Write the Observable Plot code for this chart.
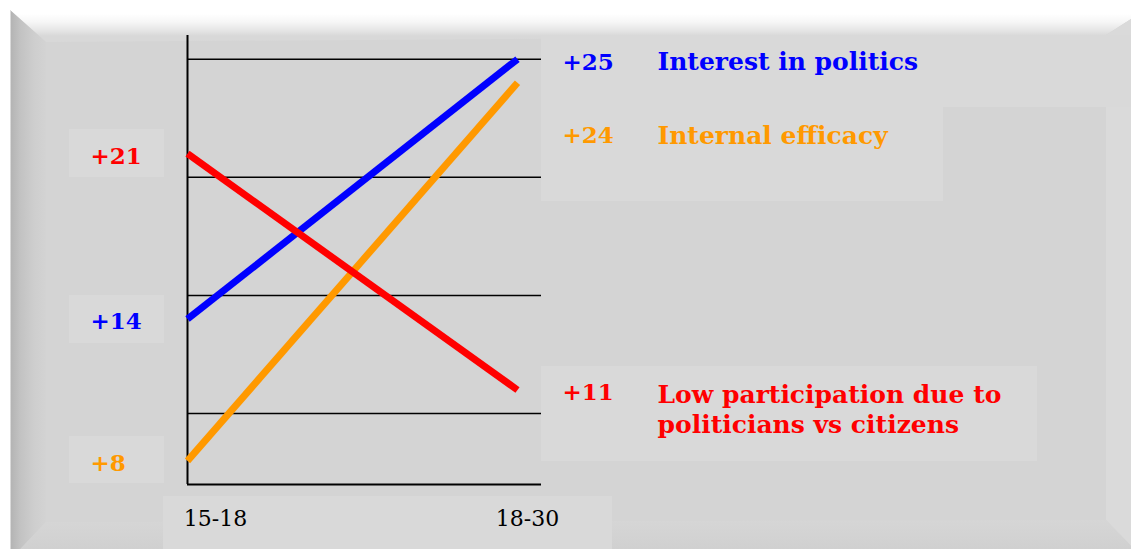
<!DOCTYPE html>
<html>
<head>
<meta charset="utf-8">
<script src="https://cdn.jsdelivr.net/npm/d3@7"></script>
<script src="https://cdn.jsdelivr.net/npm/@observablehq/plot@0.6"></script>
<style>
  html, body { margin: 0; padding: 0; background: #ffffff; }
  #wrap { position: relative; width: 1131px; height: 549px; overflow: hidden; background: #ffffff; }
  .bev { position: absolute; left: 0; top: 0; width: 1131px; height: 549px; }
  .box { position: absolute; background: #d9d9d9; }
  #chart { position: absolute; left: 0; top: 0; }
</style>
</head>
<body>
<div id="wrap">
  <div class="bev" style="background:#d4d4d4; clip-path: polygon(10px 10px, 1145px 10px, 1145px 560px, 10px 560px);"></div>
  <div class="bev" style="background: linear-gradient(to bottom, #ffffff 0px, #ffffff 14px, #f6f6f6 22px, #e4e4e4 31px, #d8d8d8 36px); clip-path: polygon(10px 10px, 1145px 10px, 1106px 35px, 46px 42px);"></div>
  <div class="bev" style="background: linear-gradient(to right, #ffffff 0px, #ffffff 10px, #b4b4b4 11px, #c2c2c2 20px, #cecece 34px, #d3d3d3 46px); clip-path: polygon(10px 10px, 46px 42px, 46px 522px, 10px 560px);"></div>
  <div class="bev" style="background:#dadada; clip-path: polygon(1145px 10px, 1106px 35px, 1106px 520px, 1145px 560px);"></div>
  <div class="bev" style="background: linear-gradient(to bottom, #d6d6d6 520px, #d0d0d0 549px); clip-path: polygon(10px 560px, 46px 522px, 1106px 520px, 1145px 560px);"></div>

  <div class="box" style="left:69px; top:129px; width:95px; height:48px;"></div>
  <div class="box" style="left:69px; top:295px; width:95px; height:48px;"></div>
  <div class="box" style="left:69px; top:436px; width:95px; height:47px;"></div>
  <div class="box" style="left:541px; top:35px; width:590px; height:72px;"></div>
  <div class="box" style="left:541px; top:107px; width:402px; height:94px;"></div>
  <div class="box" style="left:541px; top:366px; width:496px; height:95px;"></div>
  <div class="box" style="left:163px; top:496px; width:449px; height:53px;"></div>

  <div id="chart"></div>
</div>
<script>
// ---- data ----
const ageGroups = ["15-18", "18-30"];
const seriesNames = ["Interest in politics", "Internal efficacy", "Low participation due to\npoliticians vs citizens"];
const valuesYoung = [14, 8, 21];
const valuesOld = [25, 24, 11];
const seriesColors = ["#0000ff", "#ff9900", "#ff0000"];
const gridValues = [10, 15, 20, 25];
const yDomain = [7, 26];

// ---- table built from the arrays ----
const rows = [];
seriesNames.forEach((s, i) => {
  rows.push({series: s, age: ageGroups[0], value: valuesYoung[i]});
  rows.push({series: s, age: ageGroups[1], value: valuesOld[i]});
});
const idx = seriesNames.map((_, i) => i);

const serif = "DejaVu Serif";
const numSize = 23;
const nameSize = 25;

const plot = Plot.plot({
  width: 1131,
  height: 549,
  marginLeft: 187,
  marginRight: 590,
  marginTop: 35,
  marginBottom: 65,
  style: {background: "transparent", overflow: "visible"},
  x: {type: "point", domain: ageGroups, range: [187, 517], padding: 0, axis: null},
  y: {domain: yDomain, axis: null},
  color: {domain: seriesNames, range: seriesColors},
  marks: [
    Plot.ruleY(gridValues, {stroke: "#000", strokeWidth: 1.5}),
    Plot.ruleY([yDomain[0]], {stroke: "#000", strokeWidth: 2}),
    Plot.ruleX([ageGroups[0]], {stroke: "#000", strokeWidth: 2}),
    Plot.line(rows, {x: "age", y: "value", z: "series", stroke: "series", strokeWidth: 7, strokeLinecap: "butt"}),
    // left value labels
    Plot.text(idx, {x: () => ageGroups[0], y: i => valuesYoung[i], text: i => "+" + valuesYoung[i],
      fill: i => seriesNames[i], textAnchor: "start", dx: -97, dy: 3,
      fontFamily: serif, fontWeight: "bold", fontSize: numSize}),
    // right value labels
    Plot.text([0, 2], {x: () => ageGroups[1], y: i => valuesOld[i], text: i => "+" + valuesOld[i],
      fill: i => seriesNames[i], textAnchor: "start", dx: 45, dy: 3,
      fontFamily: serif, fontWeight: "bold", fontSize: numSize}),
    Plot.text([1], {x: () => ageGroups[1], y: i => valuesOld[i], text: i => "+" + valuesOld[i],
      fill: i => seriesNames[i], textAnchor: "start", dx: 45, dy: 53,
      fontFamily: serif, fontWeight: "bold", fontSize: numSize}),
    // series names
    Plot.text([0], {x: () => ageGroups[1], y: i => valuesOld[i], text: i => seriesNames[i],
      fill: i => seriesNames[i], textAnchor: "start", dx: 140, dy: 3,
      fontFamily: serif, fontWeight: "bold", fontSize: nameSize}),
    Plot.text([1], {x: () => ageGroups[1], y: i => valuesOld[i], text: i => seriesNames[i],
      fill: i => seriesNames[i], textAnchor: "start", dx: 140, dy: 53,
      fontFamily: serif, fontWeight: "bold", fontSize: nameSize}),
    Plot.text([2], {x: () => ageGroups[1], y: i => valuesOld[i], text: i => seriesNames[i],
      fill: i => seriesNames[i], textAnchor: "start", dx: 140, dy: 18, lineHeight: 1.2,
      fontFamily: serif, fontWeight: "bold", fontSize: nameSize}),
    // category labels
    Plot.text([ageGroups[0]], {x: d => d, text: d => d, frameAnchor: "bottom", dx: 28, dy: 41,
      fill: "#000", fontFamily: serif, fontSize: 22}),
    Plot.text([ageGroups[1]], {x: d => d, text: d => d, frameAnchor: "bottom", dx: 10, dy: 41,
      fill: "#000", fontFamily: serif, fontSize: 22})
  ]
});
document.getElementById("chart").appendChild(plot);
</script>
</body>
</html>
